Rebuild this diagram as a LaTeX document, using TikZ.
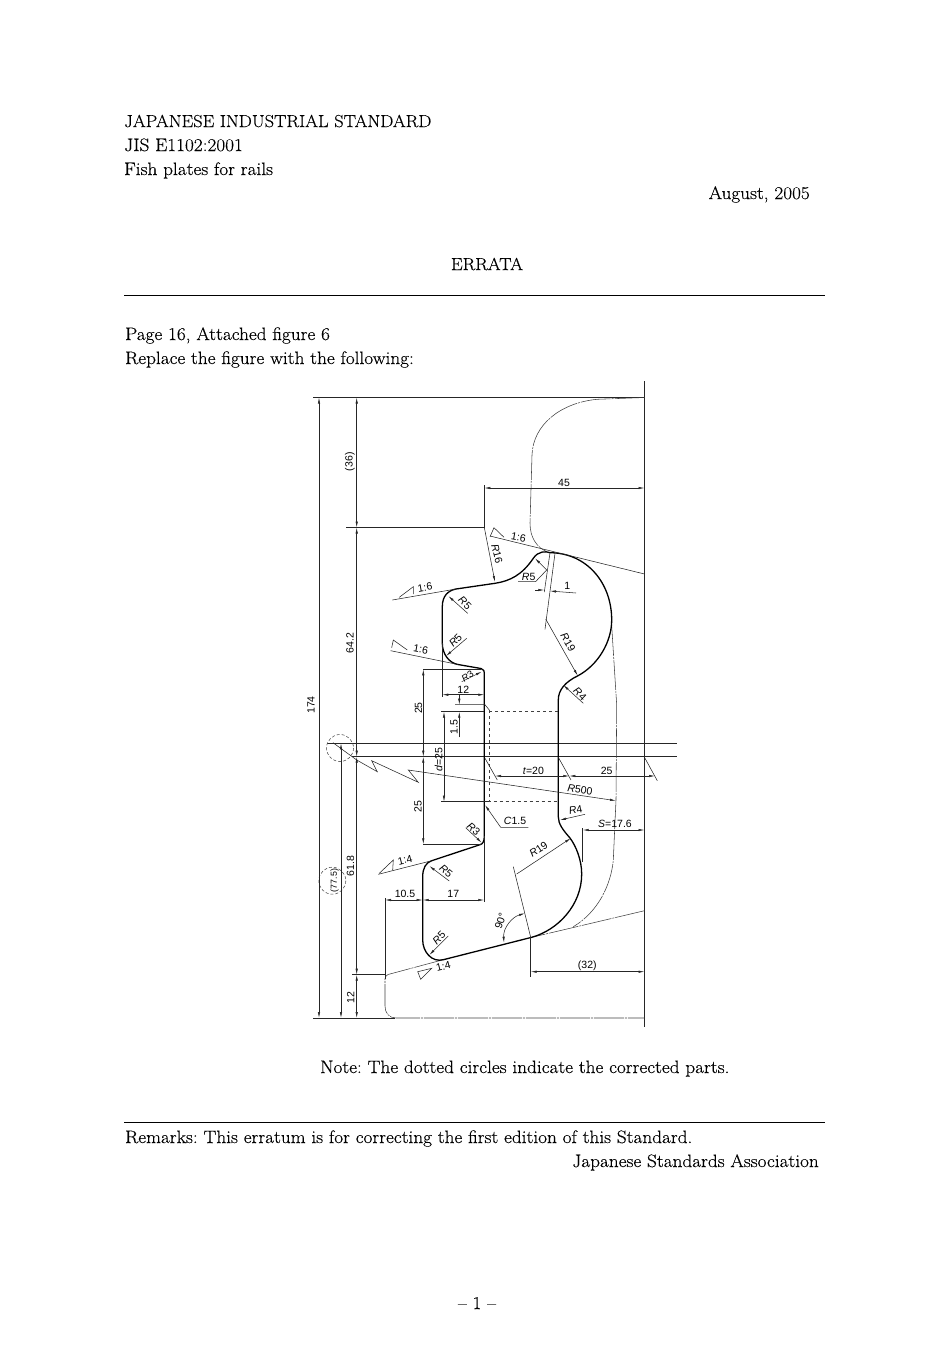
\documentclass[tikz,border=0pt]{standalone}
\usepackage{fontspec}
\setmainfont{Latin Modern Roman}[FakeStretch=1.07,FakeBold=0.25]
\setsansfont{Liberation Sans}
\usetikzlibrary{arrows.meta}

\tikzset{
  txt/.style={anchor=base west,inner sep=0pt,font=\frenchspacing\fontsize{18}{20}\selectfont},
  caps/.style={font=\fontsize{17.3}{20}\selectfont},
  lab/.style={inner sep=0pt,font=\sffamily\fontsize{10.5}{12}\selectfont},
  thin line/.style={line width=0.55pt,black!85},
  rail/.style={line width=0.55pt,black!75,dash pattern=on 30pt off 1pt on 2pt off 1pt},
  outline/.style={line width=1.3pt},
  hidden/.style={line width=0.55pt,dashed,black!75},
  corrected/.style={line width=0.55pt,densely dashed,black!70},
}

\begin{document}
\begin{tikzpicture}[x=1pt,y=-1pt,>={Latex[length=6pt,width=2.4pt]}]
\useasboundingbox (0,0) rectangle (950,1345);

% page text
\node[txt,caps] (t1) at (124,127) {JAPANESE INDUSTRIAL STANDARD};
\node[txt] (t2) at (124,151) {JIS E1102:2001};
\node[txt] (t3) at (124,175) {Fish plates for rails};
\node[txt,anchor=base east] (t4) at (810,199) {August, 2005};
\node[txt,caps,anchor=base] (t5) at (487,270) {ERRATA};
\node[txt] (t6) at (125,340) {Page 16, Attached figure 6};
\node[txt] (t7) at (125,364) {Replace the figure with the following:};
\node[txt] (t8) at (320,1073) {Note: The dotted circles indicate the corrected parts.};
\node[txt] (t9) at (125,1143) {Remarks: This erratum is for correcting the first edition of this Standard.};
\node[txt,anchor=base east] (t10) at (819,1167) {Japanese Standards Association};
\node[txt,anchor=base] (t11) at (477,1309) {-- 1 --};
\draw[line width=0.9pt] (124,295) -- (825,295);
\draw[line width=0.9pt] (124,1122) -- (825,1122);

% frame and centre lines
\draw[thin line] (313,397.5) -- (644.5,397.5);
\draw[thin line] (644.5,381) -- (644.5,1027);
\draw[thin line] (327,743.3) -- (677,743.3);
\draw[thin line] (352,756.7) -- (677,756.7);
\draw[thin line] (346,527.5) -- (484.3,527.5) -- (484.3,485);
\draw[thin line] (352,974.7) -- (385,974.7);
\draw[thin line] (313,1018) -- (395,1018);

% rail
\draw[rail] (644.5,397.5) -- (597,399.3) .. controls (560,403) and (533,425) .. (532,455) -- (530,523) .. controls (530,538) and (537,547) .. (546,551.3);
\draw[rail] (611.7,626) -- (616.7,705) -- (616,800) -- (613.3,860) .. controls (611,885) and (598,912) .. (573.3,926.7);
\draw[rail] (644.5,910.7) -- (531.7,937.3);
\draw[rail] (443.3,959.7) -- (388,974.5) .. controls (386,975.5) and (385,977) .. (385,979) -- (385,1006) .. controls (385,1013) and (389,1018) .. (396,1018) -- (644.5,1018);
\draw[thin line] (385,898) -- (385,979);

% plate
\draw[outline,line join=round] (550,552.7) .. controls (587,553) and (611.7,583) .. (611.7,620)
  .. controls (611.7,642) and (598,665) .. (578,675.7)
  .. controls (565,682) and (558.3,690) .. (558.3,700) -- (558.3,816.7)
  .. controls (558.3,824) and (563,830) .. (570,838)
  .. controls (576,846) and (581.7,860) .. (581.7,874)
  .. controls (581.7,905) and (558,930) .. (531.7,937.3) -- (443.3,959.7)
  .. controls (432,962.7) and (422.7,952) .. (422.7,940) -- (422.7,876.7)
  .. controls (422.7,868) and (426,862.5) .. (431.7,860.7) -- (480,844.7)
  .. controls (483,844) and (484.3,841) .. (484.3,836) -- (484.3,675)
  .. controls (484.3,671) and (484,669) .. (481,668.5) -- (458,664.5)
  .. controls (449,663) and (442.3,654) .. (442.3,643) -- (442.3,606.7)
  .. controls (442.3,596) and (448,590.5) .. (456,589) -- (495,583.3)
  .. controls (510,581) and (522,575) .. (533.3,558.3)
  .. controls (538,551) and (546,551) .. (550,552.7);

% hidden edge of the plate
\draw[thin line] (455,704.7) -- (485,704.7) -- (489.3,710);
\draw[hidden] (489.3,711.7) -- (558.3,711.7);
\draw[hidden] (489.3,710) -- (489.3,801.7) -- (558.3,801.7);
\draw[thin line] (441,711.7) -- (484.3,711.7);
\draw[thin line] (441,801.7) -- (489.3,801.7);

% corrected parts
\draw[corrected] (340,748) circle (13.5);
\draw[corrected] (332.3,880.7) circle (13.5);

% dimensions, vertical
\draw[thin line,<->] (319,397.5) -- (319,1018);
\draw[thin line,<->] (356.7,397.5) -- (356.7,527.5);
\draw[thin line,<->] (356.7,527.5) -- (356.7,756.7);
\draw[thin line,<->] (341,743.3) -- (341,1018);
\draw[thin line,<->] (356.7,756.7) -- (356.7,974.7);
\draw[thin line,<->] (356.7,974.7) -- (356.7,1018);
\draw[thin line,<->] (423.3,669.3) -- (423.3,756.7);
\draw[thin line,<->] (423.3,756.7) -- (423.3,844.3);
\draw[thin line] (423.3,669.3) -- (481,669.3);
\draw[thin line] (423.3,844.3) -- (482,844.3);
\draw[thin line,<->] (444,711.7) -- (444,801.7);
\draw[thin line,->] (459.3,695) -- (459.3,704.7);
\draw[thin line,->] (459.3,737.3) -- (459.3,711.7);

% dimensions, horizontal
\draw[thin line,<->] (484.3,488) -- (644.5,488);
\draw[thin line] (442.3,643) -- (442.3,697);
\draw[thin line,<->] (442.3,694.7) -- (484.3,694.7);
\draw[thin line,<->] (385,900) -- (422.7,900);
\draw[thin line,<->] (422.7,900) -- (484.3,900);
\draw[thin line] (484.3,836) -- (484.3,902);
\draw[thin line,<->] (495,776) -- (569.3,776);
\draw[thin line,<->] (569.3,776) -- (655,776);
\draw[thin line] (485,758.3) -- (497.3,780);
\draw[thin line] (558.3,757.3) -- (571,780);
\draw[thin line] (645,758.3) -- (657.3,780.7);
\draw[thin line,<->] (582.7,830) -- (644.5,830);
\draw[thin line] (582.7,828) -- (582.7,862);
\draw[thin line,<->] (530.7,971.7) -- (644.5,971.7);
\draw[thin line] (530.7,937.3) -- (530.7,977);
\draw[thin line] (530.7,937.3) -- (513.3,866.7);
\draw[thin line,<->] (525,913.3) .. controls (512,917) and (503,928) .. (504,942.7);

% slopes
\draw[thin line] (490,536) -- (644.5,574);
\draw[thin line] (490,536.7) -- (494,527.7) -- (504,537.3);
\draw[thin line] (392.3,600) -- (456,589);
\draw[thin line] (399.3,597.3) -- (413.3,586.7) -- (413.3,594);
\draw[thin line] (390.7,650.7) -- (458,664.5);
\draw[thin line] (391.7,647.7) -- (393.3,640) -- (407.3,650);
\draw[thin line] (378.3,874.3) -- (431.7,860.7);
\draw[thin line] (379.3,873.3) -- (393.3,860) -- (392.7,870);
\draw[thin line] (417.7,971.7) -- (431.7,968.3) -- (420.7,979.3) -- cycle;

% radii
\draw[thin line,->] (484.3,527.5) -- (495,582);
\draw[thin line,->] (546.7,570) -- (535,558.3);
\draw[thin line] (546.7,570) -- (535.5,581.7) -- (518,581.7);
\draw[thin line] (550,552.7) -- (544.3,592);
\draw[thin line] (555,553.3) -- (545,629.3);
\draw[thin line,->] (535,590) -- (544.3,590);
\draw[thin line,->] (576,593) -- (550,591);
\draw[thin line,->] (545.7,619) -- (577.7,675.7);
\draw[thin line,->] (467.7,613.3) -- (448.3,596);
\draw[thin line,->] (466.7,638.3) -- (446,656);
\draw[thin line,->] (461.7,681.7) -- (481.7,671.7);
\draw[thin line,->] (583.3,703.3) -- (563.3,685);
\draw[thin line,->] (585,814.3) -- (560,820);
\draw[thin line,->] (465.7,827.7) -- (481.7,842.7);
\draw[thin line,->] (449.3,881) -- (429.3,866);
\draw[thin line,->] (448.3,936) -- (429.3,955);
\draw[thin line,->] (516.7,874) -- (570.7,838.3);
\draw[thin line,->] (528.3,827.3) -- (500.7,827.3) -- (485,805);
\draw[thin line] (333,742.7) -- (356.7,760);
\draw[thin line,->] (356.7,760) -- (377.3,771.7) -- (371.7,760.7) -- (418.3,782.3) -- (408.3,770) -- (616,800.7);

% labels
\node[lab,rotate=90] (d174) at (311,705) {174};
\node[lab,rotate=90] (d36) at (350,461.7) {(36)};
\node[lab,rotate=90] (d642) at (350,643.3) {64.2};
\node[lab,rotate=90,font=\sffamily\fontsize{8.8}{10}\selectfont] (d775) at (334.5,880.5) {(77.5)};
\node[lab,rotate=90] (d618) at (350.5,866) {61.8};
\node[lab,rotate=90] (d12a) at (350.7,997.7) {12};
\node[lab,rotate=90] (d25a) at (418.5,708) {25};
\node[lab,rotate=90] (d25b) at (418,806.7) {25};
\node[lab,rotate=90] (d15) at (454,726.7) {1.5};
\node[lab,rotate=90] (dd) at (438.5,759.3) {\textit{d}=25};
\node[lab] (d45) at (564,482.7) {45};
\node[lab] (d12b) at (463.3,690) {12};
\node[lab] (d1) at (567.3,585.5) {1};
\node[lab] (dt) at (533.3,770.5) {\textit{t}=20};
\node[lab] (d25c) at (606.7,770.5) {25};
\node[lab] (ds) at (615,824) {\textit{S}=17.6};
\node[lab] (d105) at (405,894) {10.5};
\node[lab] (d17) at (453.3,894) {17};
\node[lab] (d32) at (587.3,965.5) {(32)};
\node[lab,rotate=72] (d90) at (500.5,921) {90°};
\node[lab,rotate=-10] (s1) at (518.5,537.5) {1:6};
\node[lab,rotate=10] (s2) at (425,587.5) {1:6};
\node[lab,rotate=-10] (s3) at (420.7,649.5) {1:6};
\node[lab,rotate=14] (s4) at (405,860) {1:4};
\node[lab,rotate=14] (s5) at (443.3,966.5) {1:4};
\node[lab,rotate=-76] (r16) at (497,554) {\textit{R}16};
\node[lab] (r5a) at (528.7,576.5) {\textit{R}5};
\node[lab,rotate=-45] (r5b) at (465,603) {\textit{R}5};
\node[lab,rotate=45] (r5c) at (455.5,640.5) {\textit{R}5};
\node[lab,rotate=-40] (r5d) at (446,871.5) {\textit{R}5};
\node[lab,rotate=45] (r5e) at (439,938) {\textit{R}5};
\node[lab,rotate=35,font=\sffamily\fontsize{9.5}{11}\selectfont] (r3a) at (467.5,676) {\textit{R}3};
\node[lab,rotate=-40] (r3b) at (473.5,829) {\textit{R}3};
\node[lab,rotate=-60] (r19a) at (568,642.5) {\textit{R}19};
\node[lab,rotate=33] (r19b) at (538.5,849.5) {\textit{R}19};
\node[lab,rotate=-45] (r4a) at (580,694) {\textit{R}4};
\node[lab,rotate=10] (r4b) at (575.7,810) {\textit{R}4};
\node[lab,rotate=-8] (r500) at (580,789.5) {\textit{R}500};
\node[lab] (c15) at (515,821) {\textit{C}1.5};

\end{tikzpicture}
\end{document}
